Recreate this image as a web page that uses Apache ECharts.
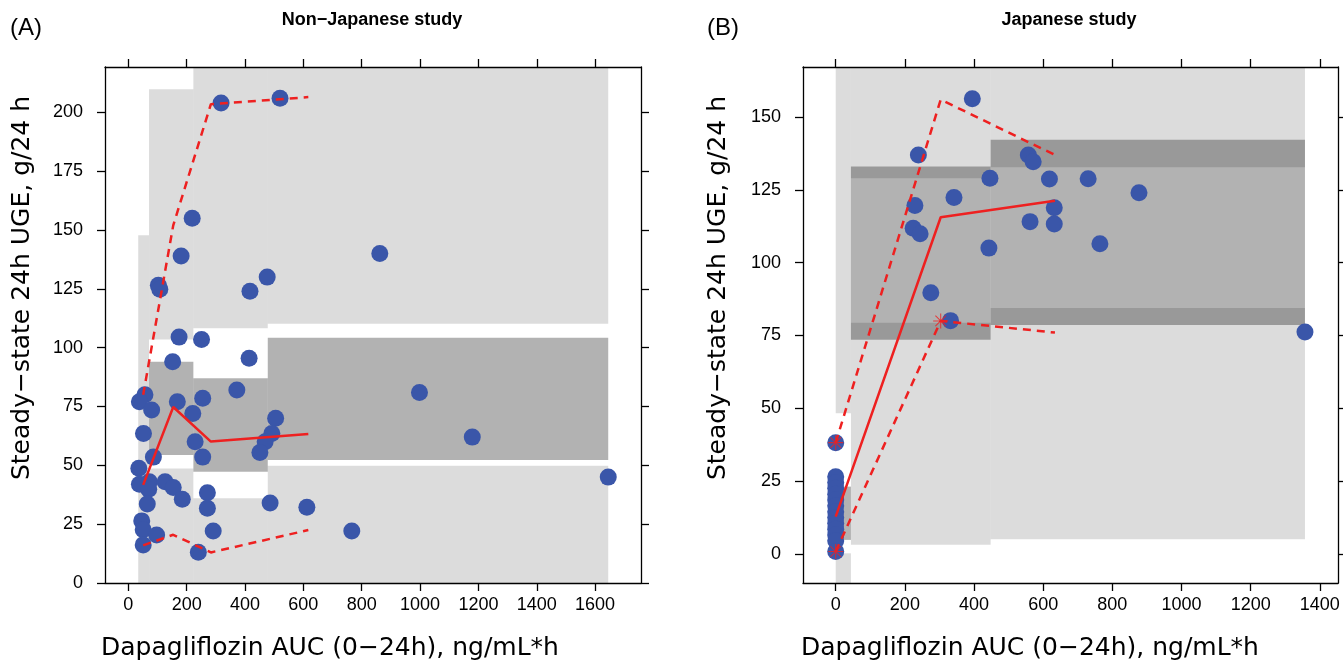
<!DOCTYPE html>
<html>
<head>
<meta charset="utf-8">
<script src="https://cdn.jsdelivr.net/npm/echarts@6/dist/echarts.min.js"></script>
<style>
html,body{margin:0;padding:0;background:#fff;}
#c{width:1343px;height:663px;}
</style>
</head>
<body>
<div id="c"></div>
<script>
// ---------- tick labels ----------
const xTicksA = [0, 200, 400, 600, 800, 1000, 1200, 1400, 1600];
const yTicksA = [0, 25, 50, 75, 100, 125, 150, 175, 200];
const xTicksB = [0, 200, 400, 600, 800, 1000, 1200, 1400];
const yTicksB = [0, 25, 50, 75, 100, 125, 150];

// ---------- Panel A: observed points ----------
const obsA = [
  [318,204],[520,206],[219,155],[181,139],[103,126.5],[108,124.8],[417,124],[476,130],[862,140],
  [174,104.5],[251,103.5],[414,95.5],[152,94],[372,82],[57,80],[38,77],[168,77],[255,78.5],
  [80,73.5],[221,72],[52,63.5],[229,60],[255,53.5],[86,53.5],[505,70],[492,63.5],[469,60],
  [451,55.5],[36,48.8],[38,42],[72,43],[70,39.8],[126,43],[154,40.6],[185,35.6],[271,38.4],
  [271,31.8],[65,33.6],[486,34],[612,32.2],[46,26.4],[51,22.6],[97,20.4],[51,16.2],[291,22.1],
  [240,13.1],[766,22.1],[998,81],[1179,62],[1645,45]
];
// observed percentiles per bin (A)
const binMidA = [51, 154, 283, 617];
const p50A = [41.7, 74.8, 60.1, 63.3];
const p95A = [80, 152, 203.5, 206.5];
const p05A = [16, 20.5, 13, 22.5];
// simulated CI bands (A): [xFrom, xTo, low, high, kind] kind 0 = percentile CI, 1 = median CI
const bandsA = [
  [34, 71, -5, 50, 0], [34, 71, 50, 147.8, 0],
  [71, 223, -5, 48.7, 0], [71, 223, 54.4, 94, 1], [71, 223, 103.5, 209.8, 0],
  [223, 478, -5, 36, 0], [223, 478, 47.3, 87, 1], [223, 478, 108.3, 230, 0],
  [478, 1645, -5, 49.8, 0], [478, 1645, 52.3, 104.2, 1], [478, 1645, 110.2, 230, 0]
];

// ---------- Panel B: observed points ----------
const obsB = [
  [0,38.2],[0,26.5],[0,24.5],[0,22.5],[0,20.5],[0,18.5],[0,16.5],[0,14.5],[0,12.5],[0,10.5],
  [0,8.5],[0,6.5],[0,4.5],[0,0.8],
  [395,156.3],[239,137],[557,137],[571,134.7],[446,129],[618,128.7],[342,122.4],[229,119.6],
  [632,118.9],[224,111.8],[244,109.9],[562,114.1],[632,113.3],[443,105],[275,89.7],[332,80.1],
  [730,128.8],[877,124],[764,106.5],[1357,76.2]
];
const binMidB = [0, 303.6, 634];
const p50B = [12.8, 115.6, 121.3];
const p95B = [38.2, 156, 137];
const p05B = [0.8, 80, 76];
const starsB = [[0, 38.2], [0, 0.8], [303.6, 80]];
const bandsB = [
  [0, 44, -15, 0.2, 0], [0, 44, 4.8, 23.1, 1], [0, 44, 48.3, 180, 0],
  [44, 448, 3.1, 79.4, 0], [44, 448, 73.5, 133, 1], [44, 448, 129, 180, 0],
  [448, 1357, 5.0, 84.4, 0], [448, 1357, 78.6, 142.2, 1], [448, 1357, 132.8, 180, 0]
];

// ---------- styling ----------
const FONT = '"Liberation Sans", Arial, Helvetica, sans-serif';
const FONT2 = '"DejaVu Sans", Verdana, sans-serif';
const LIGHT = 'rgba(0,0,0,0.137)';
const MED = 'rgba(0,0,0,0.30)';
const DOT = '#3a56a9';
const RED = '#ee2020';
const STAR = 'path://M-0.7,-10 L0.7,-10 L0.7,10 L-0.7,10 Z M-10,-0.7 L10,-0.7 L10,0.7 L-10,0.7 Z M-6.575,-7.565 L7.565,6.575 L6.575,7.565 L-7.565,-6.575 Z M-7.565,6.575 L6.575,-7.565 L7.565,-6.575 L-6.575,7.565 Z';

function zip(xs, ys) { return xs.map((x, i) => [x, ys[i]]); }

function bandRender(params, api) {
  const p0 = api.coord([api.value(0), api.value(3)]);
  const p1 = api.coord([api.value(1), api.value(2)]);
  const cs = params.coordSys;
  const r = echarts.graphic.clipRectByRect(
    { x: p0[0], y: p0[1], width: p1[0] - p0[0], height: p1[1] - p0[1] },
    { x: cs.x, y: cs.y, width: cs.width, height: cs.height });
  if (!r) return null;
  return { type: 'rect', shape: r, style: { fill: api.value(4) === 1 ? MED : LIGHT } };
}

const plain = v => String(v);

function xAx(grid, min, max, ticks, pos) {
  return {
    type: 'value', gridIndex: grid, min: min, max: max, position: pos,
    axisLine: { show: true, onZero: false, lineStyle: { color: '#000', width: 1.3 } },
    axisTick: { show: true, inside: false, length: 8, customValues: ticks, lineStyle: { color: '#000', width: 1.3 } },
    axisLabel: { show: pos === 'bottom', customValues: ticks, formatter: plain, margin: 13, color: '#000', fontSize: 18, fontFamily: FONT },
    splitLine: { show: false }
  };
}
function yAx(grid, min, max, ticks, pos) {
  return {
    type: 'value', gridIndex: grid, min: min, max: max, position: pos,
    axisLine: { show: true, onZero: false, lineStyle: { color: '#000', width: 1.3 } },
    axisTick: { show: true, inside: false, length: 8, customValues: ticks, lineStyle: { color: '#000', width: 1.3 } },
    axisLabel: { show: pos === 'left', customValues: ticks, formatter: plain, margin: 22, color: '#000', fontSize: 18, fontFamily: FONT },
    splitLine: { show: false }
  };
}

function panelSeries(xi, yi, bands, obs, mid, p05, p50, p95, stars) {
  const s = [
    { type: 'custom', xAxisIndex: xi, yAxisIndex: yi, renderItem: bandRender, data: bands, z: 1, silent: true },
    { type: 'scatter', xAxisIndex: xi, yAxisIndex: yi, data: obs, symbolSize: 17, itemStyle: { color: DOT, opacity: 1 }, z: 2 },
    { type: 'line', xAxisIndex: xi, yAxisIndex: yi, data: zip(mid, p50), symbol: 'none', lineStyle: { color: RED, width: 2.5 }, z: 3 },
    { type: 'line', xAxisIndex: xi, yAxisIndex: yi, data: zip(mid, p95), symbol: 'none', lineStyle: { color: RED, width: 2.5, type: [8, 6] }, z: 3 },
    { type: 'line', xAxisIndex: xi, yAxisIndex: yi, data: zip(mid, p05), symbol: 'none', lineStyle: { color: RED, width: 2.5, type: [8, 6] }, z: 3 }
  ];
  if (stars) {
    s.push({ type: 'scatter', xAxisIndex: xi, yAxisIndex: yi, data: stars, symbol: STAR, symbolSize: 15, itemStyle: { color: RED }, z: 4 });
  }
  return s;
}

const chart = echarts.init(document.getElementById('c'), null, { renderer: 'canvas' });
const txt = (x, y, s, size, weight, align, rot, font) => ({
  type: 'text', x: x, y: y, rotation: rot || 0,
  style: { text: s, fontSize: size, fontWeight: weight || 'normal', fontFamily: font || FONT, fill: '#000',
           align: align || 'center', verticalAlign: 'middle' }, z: 10
});

chart.setOption({
  animation: false,
  backgroundColor: '#fff',
  grid: [
    { left: 105, top: 67, width: 536, height: 516 },
    { left: 803, top: 67, width: 535, height: 516 }
  ],
  xAxis: [
    xAx(0, -79.9, 1757.3, xTicksA, 'bottom'), xAx(0, -79.9, 1757.3, xTicksA, 'top'),
    xAx(1, -94.6, 1452.5, xTicksB, 'bottom'), xAx(1, -94.6, 1452.5, xTicksB, 'top')
  ],
  yAxis: [
    yAx(0, 0, 219.3, yTicksA, 'left'), yAx(0, 0, 219.3, yTicksA, 'right'),
    yAx(1, -10, 167.2, yTicksB, 'left'), yAx(1, -10, 167.2, yTicksB, 'right')
  ],
  series: [].concat(
    panelSeries(0, 0, bandsA, obsA, binMidA, p05A, p50A, p95A, null),
    panelSeries(2, 2, bandsB, obsB, binMidB, p05B, p50B, p95B, starsB)
  ),
  graphic: [
    txt(10, 28, '(A)', 24, 'normal', 'left'),
    txt(372, 20, 'Non\u2212Japanese study', 18, 'bold'),
    txt(707, 28, '(B)', 24, 'normal', 'left'),
    txt(1069, 20, 'Japanese study', 18, 'bold'),
    txt(330, 648, 'Dapagliflozin AUC (0\u221224h), ng/mL*h', 25, 'normal', 'center', 0, FONT2),
    txt(1030, 648, 'Dapagliflozin AUC (0\u221224h), ng/mL*h', 25, 'normal', 'center', 0, FONT2),
    txt(22, 288, 'Steady\u2212state 24h UGE, g/24 h', 25, 'normal', 'center', Math.PI / 2, FONT2),
    txt(718, 288, 'Steady\u2212state 24h UGE, g/24 h', 25, 'normal', 'center', Math.PI / 2, FONT2)
  ]
});
</script>
</body>
</html>
